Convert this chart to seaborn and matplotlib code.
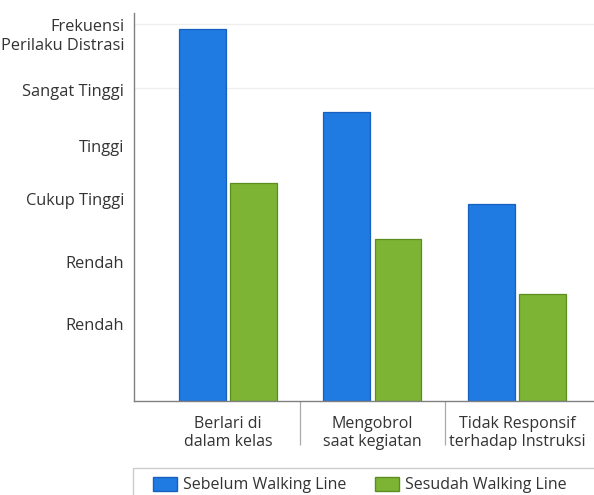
import pandas as pd
import matplotlib.pyplot as plt
import seaborn as sns
from matplotlib.patches import Rectangle, Patch

# data (scale 0-100, no numeric axis shown)
categories = ["Berlari di\ndalam kelas", "Mengobrol\nsaat kegiatan", "Tidak Responsif\nterhadap Instruksi"]
series = ["Sebelum Walking Line", "Sesudah Walking Line"]
sebelum = [95.9, 74.5, 50.8]
sesudah = [56.2, 41.8, 27.6]

ytick_pos = [94.8, 80.2, 65.7, 52.1, 35.8, 19.8]
ytick_labels = ["Frekuensi\nPerilaku Distrasi", "Sangat Tinggi", "Tinggi", "Cukup Tinggi", "Rendah", "Rendah"]
grid_pos = [97.2, 80.7]

colors = ["#1f7ae2", "#7db434"]
edges = ["#1760bd", "#5d8d1e"]

df = pd.DataFrame({
    "kategori": categories * 2,
    "seri": [series[0]] * 3 + [series[1]] * 3,
    "nilai": sebelum + sesudah,
})

sns.set_style("white")
plt.rcParams["font.family"] = ["Open Sans", "DejaVu Sans"]

fig = plt.figure(figsize=(5.94, 4.95), dpi=100)
ax = fig.add_axes([134 / 594, 94 / 495, 460 / 594, 388 / 495])

for g in grid_pos:
    ax.axhline(g, color="#efefef", lw=0.9, zorder=0)

sns.barplot(data=df, x="kategori", y="nilai", hue="seri", palette=colors, saturation=1,
            width=0.71, gap=0.09, ax=ax, legend=False, zorder=2)

# darker outlines per series
for i, cont in enumerate(ax.containers):
    for bar in cont:
        bar.set_edgecolor(edges[i])
        bar.set_linewidth(0.9)

ax.set_xlim(-0.65, 2.533)
ax.set_ylim(0, 100)
ax.set_xlabel("")
ax.set_ylabel("")

ax.set_yticks(ytick_pos)
ax.set_yticklabels(ytick_labels, fontsize=11.8, color="#333333")
ax.tick_params(axis="y", length=0, pad=7)

ax.set_xticks(range(len(categories)))
ax.set_xticklabels(categories, fontsize=11.5, color="#333333")
ax.tick_params(axis="x", which="major", bottom=False, pad=7)
ax.set_xticks([0.5, 1.5], minor=True)
ax.tick_params(axis="x", which="minor", bottom=True, length=32, width=0.9,
               color="#aaaaaa", direction="out")

for s in ["top", "right"]:
    ax.spines[s].set_visible(False)
ax.spines["left"].set_color("#808080")
ax.spines["bottom"].set_color("#808080")
ax.spines["left"].set_linewidth(1.0)
ax.spines["bottom"].set_linewidth(1.0)

# legend box running off the bottom/right edge
fig.patches.append(Rectangle((133 / 594, -0.05), 1.0, (495 - 468) / 495 + 0.05,
                             transform=fig.transFigure, fill=False,
                             edgecolor="#cccccc", lw=1.0))
handles = [Patch(facecolor=colors[i], edgecolor=edges[i], label=series[i]) for i in range(2)]
fig.legend(handles=handles, loc="center left", bbox_to_anchor=(139 / 594, 1 - 485 / 495),
           ncol=2, frameon=False, fontsize=11.5, handlelength=1.5, handleheight=1.0,
           handletextpad=0.35, columnspacing=1.8, labelcolor="#333333")

plt.savefig("out.png", dpi=100)
plt.close()
